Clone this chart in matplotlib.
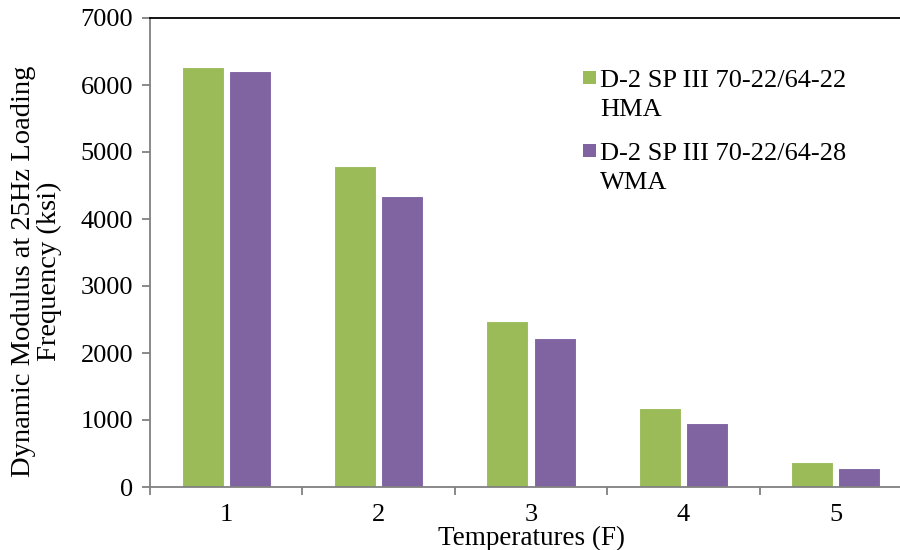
import matplotlib
matplotlib.use("Agg")
import matplotlib.pyplot as plt
import numpy as np
from matplotlib.patches import Rectangle

categories = ["1", "2", "3", "4", "5"]
hma = [6270, 4790, 2480, 1180, 370]
wma = [6210, 4345, 2225, 960, 280]
series_names = ["D-2 SP III 70-22/64-22\nHMA", "D-2 SP III 70-22/64-28\nWMA"]
colors = ["#9BBB59", "#8064A2"]

plt.rcParams['font.family'] = ['Liberation Serif', 'DejaVu Serif']
fs = 19

W, H = 900, 550
fig = plt.figure(figsize=(9, 5.5), dpi=100)
ax = fig.add_axes([150/W, (H-487)/H, 762/W, (487-18)/H])

x = np.arange(len(categories))
w = 0.275
off = 0.155
ax.bar(x - off, hma, width=w, color=colors[0], edgecolor="white", linewidth=0.8)
ax.bar(x + off, wma, width=w, color=colors[1], edgecolor="white", linewidth=0.8)

ax.set_xlim(-0.5, len(categories) - 0.5)
ax.set_ylim(0, 7000)
ax.set_yticks(np.arange(0, 7001, 1000))
ax.set_xticks(x)
ax.set_xticklabels(categories)
ax.set_xticks(np.arange(-0.5, len(categories), 1), minor=True)
ax.tick_params(axis='x', which='major', length=0, pad=12, labelsize=fs)
ax.tick_params(axis='x', which='minor', length=6, color='#808080', width=1.3, direction='out')
ax.tick_params(axis='y', length=6, color='#808080', width=1.3, direction='out', labelsize=fs, pad=6)

for s in ['left', 'bottom']:
    ax.spines[s].set_color('#808080')
    ax.spines[s].set_linewidth(1.3)
ax.spines['right'].set_visible(False)
ax.spines['top'].set_color('black')
ax.spines['top'].set_linewidth(1.3)

ax.set_ylabel("Dynamic Modulus at 25Hz Loading\nFrequency (ksi)", fontsize=20.5, linespacing=1.0)
ax.yaxis.set_label_coords(-0.116, 0.46)
ax.set_xlabel("Temperatures (F)", fontsize=19.5, labelpad=0)

# manual legend (square aligned with first text line)
def px(xp, yp):
    return xp / W, 1 - yp / H

base_y = [87, 160]
line_gap = 29
for i, (name, c) in enumerate(zip(series_names, colors)):
    b = base_y[i]
    sx, sy = px(583, b - 3)
    fig.patches.append(Rectangle((sx, sy), 13/W, 13/H, transform=fig.transFigure,
                                 facecolor=c, edgecolor='none'))
    for j, line in enumerate(name.split("\n")):
        tx, ty = px(600, b + j * line_gap)
        fig.text(tx, ty, line, fontsize=fs, va='baseline', ha='left')

fig.savefig("out.png", dpi=100)
